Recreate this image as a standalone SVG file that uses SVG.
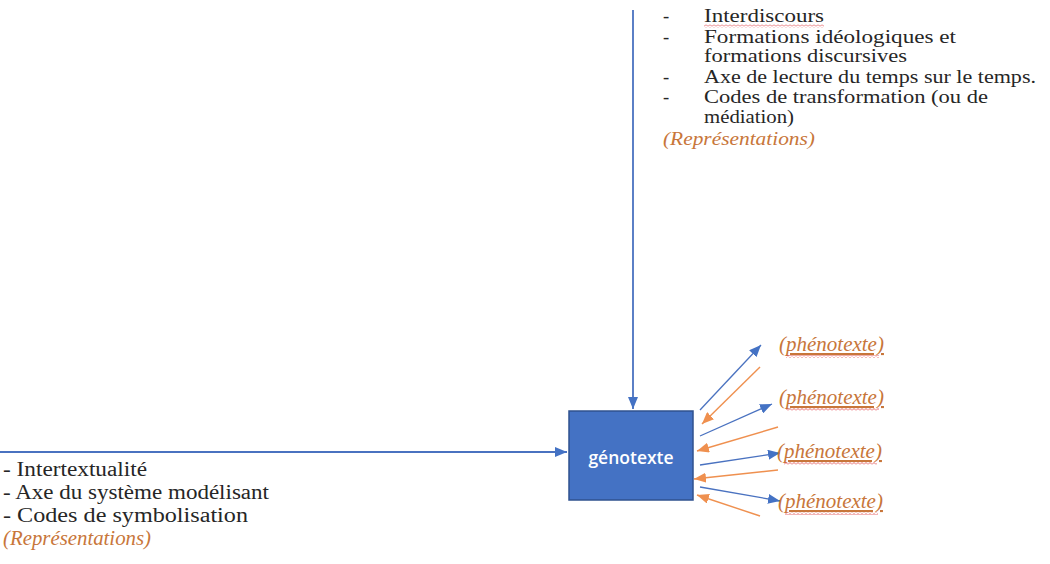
<svg xmlns="http://www.w3.org/2000/svg" width="1050" height="564" viewBox="0 0 1050 564">
<style>
.t{font-family:"Liberation Serif","Times New Roman",serif;font-size:18.5px;fill:#262626}
.b{font-family:"Liberation Serif","Times New Roman",serif;font-size:20px;fill:#262626}
.o{font-family:"Liberation Serif","Times New Roman",serif;font-size:18.5px;font-style:italic;fill:#C8763A}
.ob{font-family:"Liberation Serif","Times New Roman",serif;font-size:20px;font-style:italic;fill:#C8763A}
.p{font-family:"Liberation Serif","Times New Roman",serif;font-size:21px;font-style:italic;fill:#C8763A;text-decoration:underline}
.bl{stroke:#4A72C0;stroke-width:1.8;fill:none}
.bs{stroke:#4A72C0;stroke-width:1.3;fill:none}
.or{stroke:#ED7D31;stroke-width:1.4;fill:none;opacity:0.85}
.sq{fill:url(#sq)}
</style>
<defs>
<marker id="ab" viewBox="0 0 10 10" refX="10" refY="5" markerWidth="12" markerHeight="10" markerUnits="userSpaceOnUse" orient="auto" preserveAspectRatio="none">
<path d="M0 0 L10 5 L0 10 Z" fill="#4472C4"/>
</marker>
<marker id="ao" viewBox="0 0 10 10" refX="10" refY="5" markerWidth="12" markerHeight="10" markerUnits="userSpaceOnUse" orient="auto" preserveAspectRatio="none">
<path d="M0 0 L10 5 L0 10 Z" fill="#ED7D31"/>
</marker>
<pattern id="sq" width="4" height="3" patternUnits="userSpaceOnUse">
<path d="M0 2.5 L2 0.5 L4 2.5" stroke="#E0454B" stroke-width="0.8" fill="none"/>
</pattern>
</defs>
<g id="connectors">
<line class="bl" x1="633" y1="10" x2="633" y2="409" marker-end="url(#ab)"/>
<line class="bl" x1="0" y1="452" x2="567" y2="452" marker-end="url(#ab)"/>
<line class="bs" x1="700" y1="410" x2="761" y2="345" marker-end="url(#ab)"/>
<line class="or" x1="760" y1="367" x2="702" y2="424" marker-end="url(#ao)"/>
<line class="bs" x1="700" y1="436" x2="772" y2="404" marker-end="url(#ab)"/>
<line class="or" x1="778" y1="427" x2="697" y2="451" marker-end="url(#ao)"/>
<line class="bs" x1="700" y1="465" x2="780" y2="453" marker-end="url(#ab)"/>
<line class="or" x1="778" y1="470" x2="694" y2="479" marker-end="url(#ao)"/>
<line class="bs" x1="700" y1="487" x2="780" y2="501" marker-end="url(#ab)"/>
<line class="or" x1="760" y1="516" x2="697" y2="495" marker-end="url(#ao)"/>
</g>
<g id="genotexte">
<rect x="569" y="411" width="124" height="89" fill="#4472C4" stroke="#2F528F" stroke-width="1.5"/>
<text x="631" y="464" text-anchor="middle" style="font-family:'Open Sans','Liberation Sans',sans-serif;font-size:17.5px;font-weight:600;fill:#ffffff">génotexte</text>
</g>
<g id="top-text">
<text class="t" x="663" y="22">-</text>
<text class="t" x="704" y="22" textLength="120" lengthAdjust="spacingAndGlyphs">Interdiscours</text>
<rect class="sq" x="704" y="24.5" width="120" height="3"/>
<text class="t" x="663" y="43">-</text>
<text class="t" x="704" y="43" textLength="252" lengthAdjust="spacingAndGlyphs">Formations idéologiques et</text>
<text class="t" x="704" y="62" textLength="203" lengthAdjust="spacingAndGlyphs">formations discursives</text>
<text class="t" x="663" y="83">-</text>
<text class="t" x="704" y="83" textLength="332" lengthAdjust="spacingAndGlyphs">Axe de lecture du temps sur le temps.</text>
<text class="t" x="663" y="103">-</text>
<text class="t" x="704" y="103" textLength="284" lengthAdjust="spacingAndGlyphs">Codes de transformation (ou de</text>
<text class="t" x="704" y="123" textLength="90" lengthAdjust="spacingAndGlyphs">médiation)</text>
<text class="o" x="663" y="145" textLength="152" lengthAdjust="spacingAndGlyphs">(Représentations)</text>
</g>
<g id="left-text">
<text class="b" x="3" y="476" textLength="144" lengthAdjust="spacingAndGlyphs">- Intertextualité</text>
<text class="b" x="3" y="499" textLength="266" lengthAdjust="spacingAndGlyphs">- Axe du système modélisant</text>
<text class="b" x="3" y="522" textLength="245" lengthAdjust="spacingAndGlyphs">- Codes de symbolisation</text>
<text class="ob" x="3" y="545" textLength="148" lengthAdjust="spacingAndGlyphs">(Représentations)</text>
</g>
<g id="phenotexte-1">
<text class="p" x="779" y="351">(phénotexte)</text>
<rect class="sq" x="786" y="355" width="93" height="3"/>
</g>
<g id="phenotexte-2">
<text class="p" x="779" y="404">(phénotexte)</text>
<rect class="sq" x="786" y="408" width="93" height="3"/>
</g>
<g id="phenotexte-3">
<text class="p" x="777" y="458">(phénotexte)</text>
<rect class="sq" x="784" y="462" width="93" height="3"/>
</g>
<g id="phenotexte-4">
<text class="p" x="778" y="508">(phénotexte)</text>
<rect class="sq" x="785" y="512" width="93" height="3"/>
</g>
</svg>
